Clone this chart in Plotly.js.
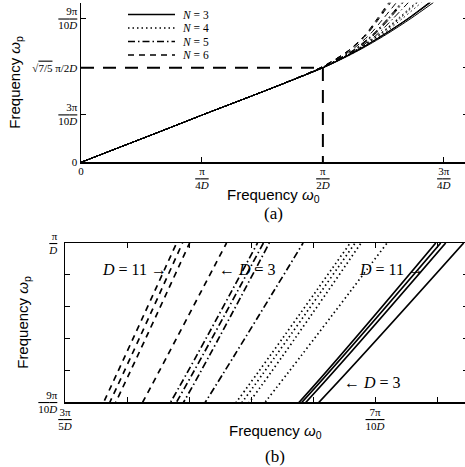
<!DOCTYPE html>
<html><head><meta charset="utf-8">
<script src="https://cdn.plot.ly/plotly-3.0.1.min.js"></script>
<style>html,body{margin:0;padding:0;overflow:hidden;background:#fff}</style>
</head><body><div id="chart"></div>
<script>
// frequencies in units of pi/D
const wpGrid = [0, 0.1, 0.2, 0.3, 0.4, 0.5, 0.6, 0.7, 0.8, 0.9, 1.0];
const dValues = [3, 5, 7, 11];
const nValues = [3, 4, 5, 6];
const w0_N3 = [
  [0, 0.085, 0.170, 0.254, 0.340, 0.425, 0.507, 0.574, 0.631, 0.682, 0.7286],
  [0, 0.085, 0.170, 0.254, 0.340, 0.425, 0.506, 0.5715, 0.6275, 0.6778, 0.7228],
  [0, 0.085, 0.170, 0.254, 0.340, 0.425, 0.5058, 0.571, 0.6265, 0.6765, 0.7212],
  [0, 0.085, 0.170, 0.254, 0.340, 0.425, 0.5057, 0.5706, 0.6258, 0.6756, 0.7196]
];
const w0_N4 = [
  [0, 0.085, 0.170, 0.254, 0.340, 0.425, 0.506, 0.572, 0.623, 0.6646, 0.7039],
  [0, 0.085, 0.170, 0.254, 0.340, 0.425, 0.505, 0.569, 0.619, 0.6595, 0.6955],
  [0, 0.085, 0.170, 0.254, 0.340, 0.425, 0.5045, 0.568, 0.6175, 0.6572, 0.6936],
  [0, 0.085, 0.170, 0.254, 0.340, 0.425, 0.504, 0.567, 0.616, 0.6553, 0.692]
];
const w0_N5 = [
  [0, 0.085, 0.170, 0.254, 0.340, 0.424, 0.505, 0.567, 0.612, 0.6453, 0.6768],
  [0, 0.085, 0.170, 0.254, 0.340, 0.424, 0.5035, 0.564, 0.607, 0.6383, 0.6659],
  [0, 0.085, 0.170, 0.254, 0.340, 0.424, 0.503, 0.563, 0.605, 0.636, 0.664],
  [0, 0.085, 0.170, 0.254, 0.340, 0.424, 0.503, 0.562, 0.603, 0.6341, 0.6621]
];
const w0_N6 = [
  [0, 0.085, 0.170, 0.254, 0.340, 0.424, 0.502, 0.558, 0.597, 0.6251, 0.6521],
  [0, 0.085, 0.170, 0.254, 0.340, 0.424, 0.5005, 0.554, 0.591, 0.6164, 0.6402],
  [0, 0.085, 0.170, 0.254, 0.340, 0.424, 0.500, 0.5535, 0.5895, 0.6145, 0.6379],
  [0, 0.085, 0.170, 0.254, 0.340, 0.424, 0.500, 0.553, 0.588, 0.6125, 0.636]
];
const markW0 = 0.5;                    // pi/(2D)
const markWp = 0.5 * Math.sqrt(7 / 5); // sqrt(7/5) pi/(2D)
const refX = [0, markW0, markW0];
const refY = [markWp, markWp, 0];

const xTicksA = [0, 0.25, 0.5, 0.75];
const yTicksA = [0, 0.3, markWp, 0.9];
const xTicksB = [0.6, 0.70];
const xMinorB = [0.62, 0.64, 0.66, 0.68, 0.72];
const yTicksB = [0.9, 1.0];
const yMinorB = [0.92, 0.94, 0.96, 0.98];

const OV = s => '<span style="text-decoration:overline">' + s + '</span>';
const frac = (a, b) => a + '<br>' + OV(b);
const xTextA = ['0', frac('π', '4<i>D</i>'), frac('π', '2<i>D</i>'), frac('3π', '4<i>D</i>')];
const yTextA = ['0', frac('3π', '10<i>D</i>'), '√' + OV('7/5') + ' π/2<i>D</i>', frac('9π', '10<i>D</i>')];
const xTextB = [frac('3π', '5<i>D</i>'), frac('7π', '10<i>D</i>')];
const yTextB = [frac('9π', '10<i>D</i>'), frac('π', '<i>D</i>')];

const styleByN = {3: 'solid', 4: '1.5px,3px', 5: '7px,3px,1.5px,3px', 6: '6px,5px'};
const groups = [w0_N3, w0_N4, w0_N5, w0_N6];

const traces = [];
groups.forEach((g, gi) => {
  g.forEach((w0, di) => {
    traces.push({
      x: w0, y: wpGrid, xaxis: 'x', yaxis: 'y', type: 'scatter', mode: 'lines',
      name: 'N=' + nValues[gi] + ', D=' + dValues[di], showlegend: false,
      line: {color: '#000', width: 1.0, dash: styleByN[nValues[gi]], shape: 'spline', smoothing: 0.8},
      hoverinfo: 'skip'
    });
    traces.push({
      x: w0, y: wpGrid, xaxis: 'x2', yaxis: 'y2', type: 'scatter', mode: 'lines',
      name: 'N=' + nValues[gi] + ', D=' + dValues[di], showlegend: false,
      line: {color: '#000', width: 1.7, dash: styleByN[nValues[gi]], shape: 'spline', smoothing: 0.8},
      hoverinfo: 'skip'
    });
  });
});
traces.push({
  x: refX, y: refY, xaxis: 'x', yaxis: 'y', type: 'scatter', mode: 'lines', showlegend: false,
  line: {color: '#000', width: 2, dash: '13px,9px'}, hoverinfo: 'skip'
});

const W = 469, H = 467, ML = 65, MR = 1, MT = 2, MB = 65;
const PW = W - ML - MR, PH = H - MT - MB;
const px = v => (v - ML) / PW;
const py = v => (H - MB - v) / PH;

const tickFont = {family: 'Liberation Serif, serif', size: 11, color: '#000'};
const titleFont = {family: 'Liberation Sans, Arial, sans-serif', size: 15, color: '#000'};

// compact legend (N groups), as in the reference
const legRowsY = [14.5, 28, 41.5, 55];
const shapes = [];
const annotations = [];
nValues.forEach((n, i) => {
  shapes.push({type: 'line', xref: 'paper', yref: 'paper', x0: px(128), x1: px(175), y0: py(legRowsY[i]), y1: py(legRowsY[i]),
    line: {color: '#000', width: 1.3, dash: styleByN[n]}});
  annotations.push({xref: 'paper', yref: 'paper', x: px(180), y: py(legRowsY[i]), xanchor: 'left', yanchor: 'middle',
    text: '<i>N</i> = ' + n, showarrow: false, font: {family: 'Liberation Serif, serif', size: 11.5, color: '#000'}});
});
// x-axis titles placed as in the reference
annotations.push({xref: 'paper', yref: 'paper', x: px(273), y: py(195), xanchor: 'center', yanchor: 'middle',
  text: 'Frequency <i>ω</i><sub>0</sub>', showarrow: false, font: titleFont});
annotations.push({xref: 'paper', yref: 'paper', x: px(275), y: py(431), xanchor: 'center', yanchor: 'middle',
  text: 'Frequency <i>ω</i><sub>0</sub>', showarrow: false, font: titleFont});
annotations.push({xref: 'paper', yref: 'paper', x: px(273), y: py(213), xanchor: 'center', yanchor: 'middle', text: '(a)', showarrow: false, font: {family: 'Liberation Serif, serif', size: 17, color: '#000'}});
annotations.push({xref: 'paper', yref: 'paper', x: px(275), y: py(456), xanchor: 'center', yanchor: 'middle', text: '(b)', showarrow: false, font: {family: 'Liberation Serif, serif', size: 17, color: '#000'}});
const labelsB = [
  {x: 0.6113, y: 0.9836, t: '<i>D</i> = 11 →'},
  {x: 0.649, y: 0.9836, t: '← <i>D</i> = 3'},
  {x: 0.6942, y: 0.9836, t: '<i>D</i> = 11 →'},
  {x: 0.6894, y: 0.912, t: '← <i>D</i> = 3'}
];
labelsB.forEach(l => annotations.push({xref: 'x2', yref: 'y2', x: l.x, y: l.y, xanchor: 'left', yanchor: 'middle',
  text: l.t, showarrow: false, font: {family: 'Liberation Serif, serif', size: 16, color: '#000'}}));

const axBase = {ticks: 'inside', ticklen: 5, tickwidth: 1, tickcolor: '#000', showgrid: false, zeroline: false,
  showline: true, linecolor: '#000', linewidth: 1.5, tickmode: 'array', tickfont: tickFont, fixedrange: true};
const minorTicks = vals => ({tickmode: 'array', tickvals: vals, ticks: 'inside', ticklen: 5, tickwidth: 1, tickcolor: '#000', showgrid: false});

const layout = {
  width: W, height: H, margin: {l: ML, r: MR, t: MT, b: MB},
  paper_bgcolor: '#fff', plot_bgcolor: '#fff', showlegend: false,
  xaxis: Object.assign({}, axBase, {domain: [px(81), 1], anchor: 'y', range: [0, 0.8], tickvals: xTicksA, ticktext: xTextA,
    ticklabelstandoff: -2, mirror: false}),
  yaxis: Object.assign({}, axBase, {domain: [py(162.3), py(2.5)], anchor: 'x', range: [0, 1], tickvals: yTicksA, ticktext: yTextA,
    mirror: 'ticks', title: {text: 'Frequency <i>ω</i><sub>p</sub>', font: titleFont, standoff: 8}}),
  xaxis3: Object.assign({}, axBase, {overlaying: 'x', side: 'top', anchor: 'y', range: [0, 0.8], tickvals: [0.25, 0.5, 0.75],
    showticklabels: false, linecolor: '#9a9a9a', linewidth: 1}),
  xaxis2: Object.assign({}, axBase, {domain: [0, 1], anchor: 'y2', range: [0.6, 0.73], tickvals: xTicksB, ticktext: xTextB,
    minor: minorTicks(xMinorB), ticklabelstandoff: -1, mirror: 'ticks'}),
  yaxis2: Object.assign({}, axBase, {domain: [0, py(243)], anchor: 'x2', range: [0.9, 1.0], tickvals: yTicksB, ticktext: yTextB,
    minor: minorTicks(yMinorB), ticklabelstandoff: 4, mirror: 'ticks',
    title: {text: 'Frequency <i>ω</i><sub>p</sub>', font: titleFont, standoff: 6}}),
  shapes: shapes,
  annotations: annotations
};

Plotly.newPlot('chart', traces, layout, {displayModeBar: false, staticPlot: true});
</script></body></html>
